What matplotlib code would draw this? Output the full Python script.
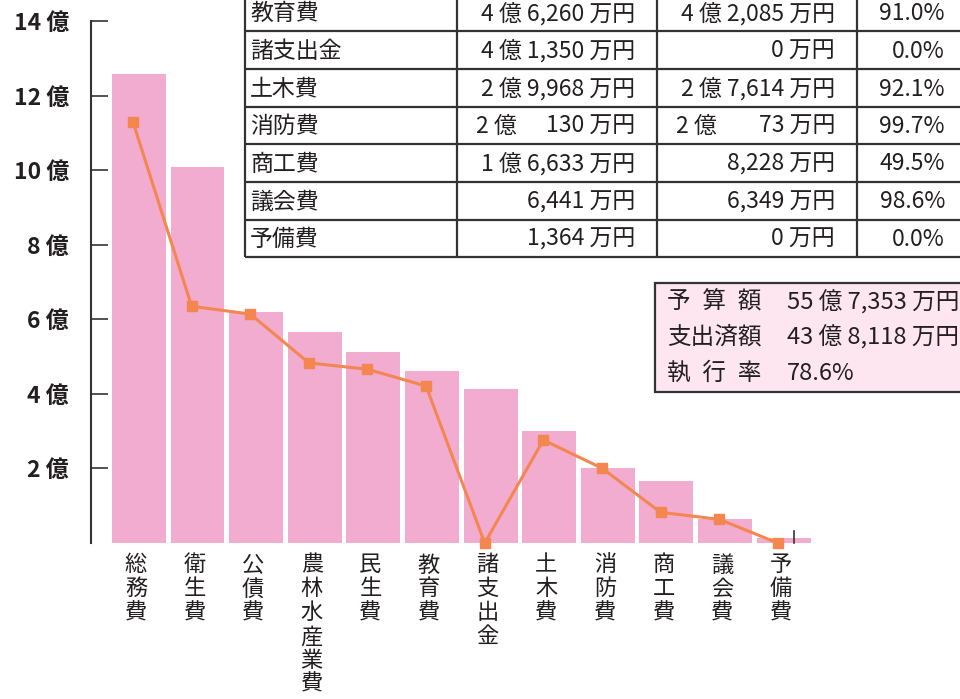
import matplotlib
matplotlib.use("Agg")
import matplotlib.pyplot as plt
from matplotlib.patches import Rectangle
import numpy as np

plt.rcParams['font.family'] = ['Noto Sans CJK JP', 'DejaVu Sans']

# ---- data ----
categories = ["総務費", "衛生費", "公債費", "農林水産業費", "民生費", "教育費",
              "諸支出金", "土木費", "消防費", "商工費", "議会費", "予備費"]
budget_oku = [12.57, 10.08, 6.19, 5.66, 5.12, 4.626, 4.135, 2.9968, 2.013, 1.6633, 0.6441, 0.1364]
spent_oku = [11.29, 6.35, 6.14, 4.83, 4.66, 4.2085, 0.0, 2.7614, 2.0073, 0.8228, 0.6349, 0.0]
yticks = [2, 4, 6, 8, 10, 12, 14]

table_names = ["教育費", "諸支出金", "土木費", "消防費", "商工費", "議会費", "予備費"]
table_budget_man = [46260, 41350, 29968, 20130, 16633, 6441, 1364]
table_spent_man = [42085, 0, 27614, 20073, 8228, 6349, 0]
table_rate = [91.0, 0.0, 92.1, 99.7, 49.5, 98.6, 0.0]

summary_labels = ["予\u2002算\u2002額", "支出済額", "執\u2002行\u2002率"]
summary_values = ["55 億 7,353 万円", "43 億 8,118 万円", "78.6%"]

BAR_C = '#f2acd0'
LINE_C = '#f4864f'
TXT_C = '#231f20'
EDGE_C = '#333333'

W, H = 960, 699
fig = plt.figure(figsize=(W / 100, H / 100), dpi=100)
ax = fig.add_axes([91 / W, (H - 543) / H, 729 / W, (543 - 21) / H])

x = np.arange(len(categories))
ax.bar(x + 0.1, budget_oku, width=0.92, color=BAR_C, zorder=1)
ax.plot(x, spent_oku, color=LINE_C, lw=2.2, marker='s', ms=7, zorder=3, clip_on=False)

ax.set_xlim(-0.717, 11.72)
ax.set_ylim(0, 14)
for s in ['top', 'right', 'bottom']:
    ax.spines[s].set_visible(False)
ax.spines['left'].set_color(EDGE_C)
ax.spines['left'].set_linewidth(1.5)
ax.set_xticks([])
ax.set_yticks(yticks)
ax.set_yticklabels([f"{v} 億" for v in yticks])
ax.tick_params(axis='y', direction='in', length=12, width=1.2, pad=16,
               labelsize=16.5, colors=EDGE_C, labelcolor=TXT_C)
for lbl in ax.get_yticklabels():
    lbl.set_fontweight('bold')

# right end small tick
ax.plot([11.28, 11.28], [0, 0.32], color=EDGE_C, lw=1.2, zorder=2, clip_on=False)

# vertical category labels
for i, name in enumerate(categories):
    ax.text(i + 0.05, -0.28, "\n".join(name), ha='center', va='top',
            fontsize=16, color=TXT_C, linespacing=1.05, clip_on=False)

# ---- overlay for table and summary ----
ov = fig.add_axes([0, 0, 1, 1], zorder=5)
ov.set_xlim(0, W)
ov.set_ylim(H, 0)
ov.axis('off')
ov.patch.set_alpha(0)

row_edges = [-6, 31, 69, 107, 144, 182, 220, 257]
col_edges = [245, 457, 657, 857, 1000]
ov.add_patch(Rectangle((245, -6), 800, 263, facecolor='white', edgecolor='none', zorder=1))
for yy in row_edges:
    ov.plot([245, 1000], [yy, yy], color=EDGE_C, lw=1.6, zorder=2, solid_capstyle='butt')
for xx in col_edges:
    ov.plot([xx, xx], [-6, 257], color=EDGE_C, lw=1.6, zorder=2, solid_capstyle='butt')

fs_t = 16.5
for r, name in enumerate(table_names):
    yc = (row_edges[r] + row_edges[r + 1]) / 2 + 1
    ov.text(250, yc, name, ha='left', va='center', fontsize=fs_t, color=TXT_C, zorder=3)
    for val, xl, xr in [(table_budget_man[r], 476, 635), (table_spent_man[r], 676, 835)]:
        oku, man = divmod(val, 10000)
        if oku and man < 1000:
            ov.text(xl, yc, f"{oku} 億", ha='left', va='center', fontsize=fs_t,
                    color=TXT_C, zorder=3)
            ov.text(xr, yc, f"{man:,} 万円", ha='right', va='center', fontsize=fs_t,
                    color=TXT_C, zorder=3)
        else:
            s = (f"{oku} 億 " if oku else "") + f"{man:,} 万円"
            ov.text(xr, yc, s, ha='right', va='center', fontsize=fs_t,
                    color=TXT_C, zorder=3)
    ov.text(945, yc, f"{table_rate[r]:.1f}%", ha='right', va='center', fontsize=fs_t,
            color=TXT_C, zorder=3)

# summary box
ov.add_patch(Rectangle((655, 283), 340, 109, facecolor='#fde6f0', edgecolor=EDGE_C,
                       lw=1.6, zorder=2))
for k, (lab, val) in enumerate(zip(summary_labels, summary_values)):
    yc = [302, 337, 373][k]
    ov.text(667, yc, lab, ha='left', va='center', fontsize=17, color=TXT_C, zorder=3)
    ov.text(787, yc, val, ha='left', va='center', fontsize=17, color=TXT_C, zorder=3)

fig.savefig("out.png", dpi=100)
